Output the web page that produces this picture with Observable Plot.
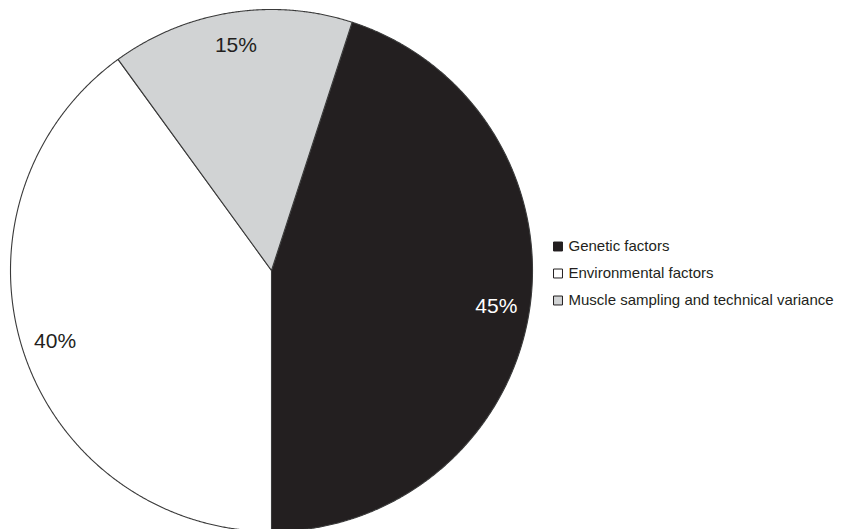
<!DOCTYPE html>
<html>
<head>
<meta charset="utf-8">
<script src="https://cdn.jsdelivr.net/npm/d3@7"></script>
<script src="https://cdn.jsdelivr.net/npm/@observablehq/plot@0.6"></script>
<style>
  body { margin: 0; background: #fff; }
  #chart svg { display: block; }
</style>
</head>
<body>
<div id="chart"></div>
<script>
// Sources of variance
const categories = ["Genetic factors", "Environmental factors", "Muscle sampling and technical variance"];
const shares = [45, 40, 15];
const sliceColors = ["#231f20", "#ffffff", "#d1d3d4"];
const labelColors = ["#ffffff", "#231f20", "#231f20"];

// Layout (pixels)
const W = 852, H = 529;
const cx = 271, cy = 270, R = 261;
const startDeg = 18;          // first slice starts 18° clockwise from 12 o'clock
const labelRadius = 0.872;
const legendX = 557.5, legendY0 = 246, legendStep = 27;

const total = d3.sum(shares);
let acc = startDeg;
const slices = categories.map((category, i) => {
  const a0 = acc, a1 = acc + shares[i] / total * 360;
  acc = a1;
  return {category, share: shares[i], a0, a1, i};
});

const polar = (deg, r) => {
  const t = deg * Math.PI / 180;
  return [cx + r * Math.sin(t), cy - r * Math.cos(t)];
};

// Each slice as a closed polygon: centre, then points along its arc
const outline = slices.flatMap(s => {
  const n = Math.ceil((s.a1 - s.a0) * 4);
  const pts = [[cx, cy]];
  for (let k = 0; k <= n; ++k) pts.push(polar(s.a0 + (s.a1 - s.a0) * k / n, R));
  return pts.map(([x, y]) => ({category: s.category, x, y}));
});

// Percentage labels at each slice's mid-angle
const labels = slices.map(s => {
  const [x, y] = polar((s.a0 + s.a1) / 2, R * labelRadius);
  return {x, y, text: `${s.share}%`, color: labelColors[s.i]};
});

const legend = categories.map((category, i) => ({
  category, x: legendX, y: legendY0 + i * legendStep
}));

const font = "'Liberation Sans', Arial, Helvetica, sans-serif";

const chart = Plot.plot({
  width: W,
  height: H,
  margin: 0,
  x: {domain: [0, W], range: [0, W], axis: null},
  y: {domain: [0, H], range: [0, H], axis: null},
  color: {domain: categories, range: sliceColors},
  style: {fontFamily: font, background: "#fff"},
  marks: [
    Plot.line(outline, {
      x: "x", y: "y", z: "category",
      fill: "category",
      stroke: "#3a3a3a",
      strokeWidth: 1.1,
      curve: "linear-closed"
    }),
    Plot.text(labels, {
      x: "x", y: "y", text: "text",
      fill: d => d.color,
      fontSize: 21,
      textAnchor: "middle"
    }),
    Plot.dot(legend, {
      x: "x", y: "y",
      symbol: "square", r: 5.05,
      fill: "category",
      stroke: "#231f20", strokeWidth: 1
    }),
    Plot.text(legend, {
      x: d => d.x + 10.5, y: "y", text: "category",
      textAnchor: "start",
      fill: "#231f20",
      fontSize: 15
    })
  ]
});

document.getElementById("chart").append(chart);
</script>
</body>
</html>
